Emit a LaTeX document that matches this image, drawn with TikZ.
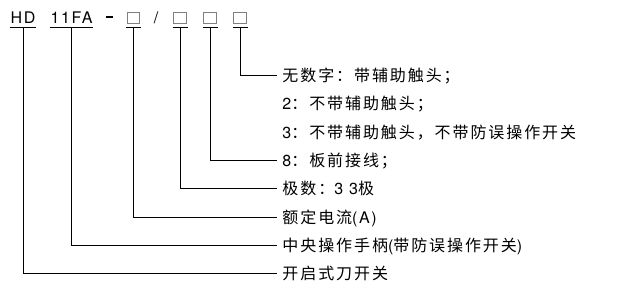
\documentclass[tikz,border=0pt]{standalone}
\usepackage{fontspec}
\setmainfont{TeX Gyre Heros}[LetterSpace=10]
\newfontfamily\cjk{Noto Sans CJK SC}[LetterSpace=12]
\usetikzlibrary{positioning}

\newcommand{\zh}[1]{{\cjk #1}}
\newcommand{\slotbox}{{\color{gray}\setlength{\fboxsep}{0pt}%
  \setlength{\fboxrule}{0.8pt}\fbox{\rule{0pt}{10.5pt}\hspace{11.5pt}}}}

\begin{document}
\begin{tikzpicture}[x=1pt,y=-1pt,line width=0.9pt,
    code/.style={inner xsep=0.5pt,inner ysep=3.5pt,text height=12pt,
      text depth=0pt,anchor=base,font=\fontsize{16}{19}\selectfont},
    sign/.style={inner sep=0pt,anchor=base,font=\fontsize{16}{19}\selectfont},
    lbl/.style={anchor=west,inner xsep=5pt,inner ysep=0pt,text height=12pt,
      text depth=0pt,font=\fontsize{16}{19}\selectfont}]
\useasboundingbox (0,0) rectangle (622,295);
% model code
\node[code] (hd) at (23,23) {HD};
\node[code] (fa) at (71.5,23) {11FA};
\node[sign] (dash) at (109.5,23) {\rule[5pt]{7pt}{2.4pt}};
\node[code] (s1) at (133.5,23) {\slotbox};
\node[sign] (slash) at (156,23) {/};
\node[code] (s2) at (180,23) {\slotbox};
\node[code] (s3) at (210,23) {\slotbox};
\node[code] (s4) at (240,23) {\slotbox};
\foreach \n in {hd,fa,s1,s2,s3,s4}
  \draw (\n.south west) -- (\n.south east);
% meanings
\node[lbl] (aux) at (277,75.5) {\zh{无数字：带辅助触头；}};
\node[lbl,below=28.3pt of aux.west,anchor=west] (noaux) {2\zh{：不带辅助触头；}};
\node[lbl,below=28.3pt of noaux.west,anchor=west] (nolock) {3\zh{：不带辅助触头，不带防误操作开关}};
\node[lbl,below=28.3pt of nolock.west,anchor=west] (front) {8\zh{：板前接线；}};
\node[lbl,below=28.3pt of front.west,anchor=west] (poles) {\zh{极数：}3 3\zh{极}};
\node[lbl,below=28.3pt of poles.west,anchor=west] (amp) {\zh{额定电流}(A)};
\node[lbl,below=28.3pt of amp.west,anchor=west] (handle) {\zh{中央操作手柄}(\zh{带防误操作开关})};
\node[lbl,below=28.3pt of handle.west,anchor=west] (knife) {\zh{开启式刀开关}};
\draw (s4.south) |- (aux.west);
\draw (s3.south) |- (front.west);
\draw (s2.south) |- (poles.west);
\draw (s1.south) |- (amp.west);
\draw (fa.south) |- (handle.west);
\draw (hd.south) |- (knife.west);
\end{tikzpicture}
\end{document}
